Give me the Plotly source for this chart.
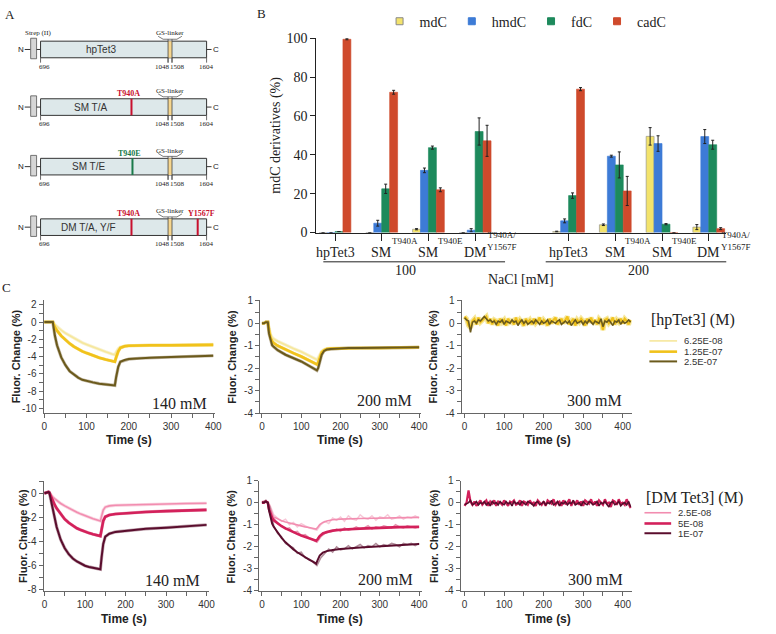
import plotly.graph_objects as go

W, H = 776, 634
def fx(p): return p / W
def fy(p): return 1 - p / H

SERIF = "Liberation Serif"
SANS = "Liberation Sans"

# ---------------- Panel A data ----------------
constructs = ["hpTet3", "SM T/A", "SM T/E", "DM T/A, Y/F"]
mutations = [[], ["T940A"], ["T940E"], ["T940A", "Y1567F"]]
mutation_colors = {"T940A": "#c8102e", "T940E": "#1a7a4a", "Y1567F": "#c8102e"}
boundary_labels = ["696", "1048", "1508", "1604"]

# ---------------- Panel B data ----------------
group_names = ["hpTet3", "SM", "SM", "DM", "hpTet3", "SM", "SM", "DM"]
group_sups = ["", "T940A", "T940E", "T940A/<br>Y1567F", "", "T940A", "T940E", "T940A/<br>Y1567F"]
group_pos = [0, 1, 2, 3, 5, 6, 7, 8]
nacl_labels = ["100", "200"]
series_names = ["mdC", "hmdC", "fdC", "cadC"]
mdC = [0, 0, 1.7, 0, 0.5, 4.0, 49.5, 2.8]
mdC_err = [0, 0, 0.3, 0, 0.2, 0.4, 4.5, 1.3]
hmdC = [0, 4.8, 32.0, 1.2, 6.0, 39.3, 45.8, 49.4]
hmdC_err = [0, 1.5, 1.2, 0.8, 1.0, 0.5, 4.0, 3.6]
fdC = [0.5, 22.5, 43.7, 52.0, 19.0, 34.8, 4.3, 45.2]
fdC_err = [0, 2.4, 0.8, 7.0, 1.4, 6.7, 0.3, 2.3]
cadC = [99.5, 72.2, 22.0, 47.2, 73.8, 21.4, 0, 2.0]
cadC_err = [0.3, 1.0, 1.0, 8.0, 0.8, 7.5, 0, 0.5]
bar_colors = ["#f3e36c", "#3d7bd6", "#1d8a5c", "#cf4a2c"]

# ---------------- Panel C data ----------------
hp_conc = ["6.25E-08", "1.25E-07", "2.5E-07"]
dm_conc = ["2.5E-08", "5E-08", "1E-07"]

# top row, 140 mM
t_hp140 = [0, 10, 20, 25, 30, 40, 50, 60, 70, 80, 90, 100, 115, 130, 145, 160, 167, 170, 175, 180, 190, 200, 225, 250, 300, 350, 400]
hp140_a = [0.05, 0.05, 0, -0.3, -0.55, -0.95, -1.3, -1.6, -1.9, -2.15, -2.4, -2.6, -2.9, -3.2, -3.45, -3.7, -3.8, -3.5, -3.1, -2.9, -2.8, -2.75, -2.7, -2.7, -2.65, -2.65, -2.6]
hp140_b = [0, 0, 0, -0.6, -1.0, -1.6, -2.1, -2.5, -2.85, -3.15, -3.4, -3.6, -3.9, -4.15, -4.35, -4.55, -4.6, -4.1, -3.4, -3.0, -2.8, -2.75, -2.7, -2.7, -2.7, -2.65, -2.65]
hp140_c = [0, 0, 0, -1.6, -2.7, -4.1, -5.0, -5.7, -6.1, -6.45, -6.7, -6.85, -7.0, -7.15, -7.25, -7.3, -7.35, -6.4, -5.2, -4.6, -4.4, -4.3, -4.2, -4.15, -4.05, -3.95, -3.9]

# top row, 200 mM
t_hp200 = [0, 5, 10, 15, 18, 22, 26, 30, 40, 60, 80, 100, 120, 140, 143, 147, 152, 158, 165, 175, 190, 220, 250, 300, 350, 400]
hp200_a = [0, 0, 0.05, 0.05, -0.2, -0.5, -0.63, -0.7, -0.8, -0.97, -1.12, -1.27, -1.45, -1.62, -1.55, -1.4, -1.25, -1.17, -1.13, -1.12, -1.12, -1.1, -1.1, -1.1, -1.08, -1.07]
hp200_b = [0, 0, 0.05, 0.05, -0.3, -0.65, -0.8, -0.88, -1.0, -1.18, -1.33, -1.48, -1.65, -1.83, -1.75, -1.5, -1.3, -1.2, -1.15, -1.13, -1.12, -1.1, -1.1, -1.1, -1.08, -1.07]
hp200_c = [0, 0, 0.05, 0.05, -0.45, -0.8, -0.98, -1.05, -1.2, -1.4, -1.55, -1.7, -1.9, -2.1, -2.0, -1.7, -1.4, -1.23, -1.17, -1.15, -1.13, -1.1, -1.1, -1.1, -1.08, -1.07]

# top row, 300 mM (raw traces, 5 s sampling)
hp300_gold = [0.3, 0.2, -0.1, -0.2, 0.1, 0.2, -0.05, 0.25, 0.05, 0.15,
              0.2, 0.3, 0.0, 0.2, -0.05, 0.15, 0.1, -0.1, 0.2, 0.05,
              0.15, -0.1, 0.2, 0.05, 0.1, -0.05, 0.25, 0.0, 0.15, 0.05,
              -0.1, 0.2, 0.05, 0.15, -0.05, 0.2, 0.0, 0.1, 0.25, -0.05,
              0.15, 0.05, -0.1, 0.2, 0.0, 0.15, 0.25, -0.05, 0.1, 0.2,
              0.0, 0.15, 0.3, -0.05, 0.1, 0.2, -0.1, 0.15, 0.05, 0.2,
              0.1, -0.1, 0.2, 0.05, 0.25, 0.0, 0.15, -0.05, 0.2, 0.1,
              -0.3, 0.15, 0.2, 0.0, 0.1, 0.25, -0.05, 0.15, 0.05, 0.2,
              0.0, 0.2, 0.1, -0.05, 0.15]
hp300_dark = [0.25, 0.15, 0.1, -0.4, 0.05, 0.1, 0.0, 0.15, 0.1, 0.2,
              0.3, 0.2, 0.1, 0.15, 0.05, 0.1, -0.05, 0.1, 0.05, 0.15,
              -0.05, 0.1, 0.05, 0.0, 0.15, 0.05, 0.1, -0.1, 0.05, 0.15,
              0.0, 0.1, -0.05, 0.05, 0.1, 0.0, 0.15, 0.05, -0.05, 0.1,
              0.0, 0.05, 0.15, -0.05, 0.1, 0.05, 0.0, 0.1, 0.15, -0.05,
              0.05, 0.1, 0.0, 0.1, -0.1, 0.05, 0.15, 0.0, 0.05, 0.1,
              -0.05, 0.1, 0.0, 0.15, 0.05, -0.05, 0.1, 0.05, 0.0, 0.2,
              -0.15, 0.1, 0.05, 0.15, 0.0, -0.1, 0.1, 0.05, 0.15, -0.05,
              0.1, 0.0, 0.05, 0.15, 0.05]

# bottom row, 140 mM
t_dm140 = [0, 5, 10, 12, 15, 20, 25, 30, 40, 50, 60, 70, 80, 90, 100, 110, 120, 130, 138, 141, 145, 150, 160, 175, 200, 250, 300, 350, 400]
dm140_a = [0, 0.05, 0.1, 0.05, -0.1, -0.3, -0.45, -0.6, -0.85, -1.05, -1.25, -1.42, -1.58, -1.73, -1.87, -2.0, -2.12, -2.22, -2.3, -1.9, -1.4, -1.15, -1.05, -1.0, -0.97, -0.92, -0.88, -0.85, -0.83]
dm140_b = [0, 0.05, 0.1, 0.05, -0.2, -0.6, -0.95, -1.25, -1.75, -2.15, -2.45, -2.7, -2.9, -3.05, -3.2, -3.3, -3.4, -3.48, -3.55, -3.0, -2.3, -1.95, -1.8, -1.72, -1.65, -1.55, -1.48, -1.42, -1.38]
dm140_c = [0, 0.05, 0.1, 0.05, -0.4, -1.3, -2.1, -2.8, -3.85, -4.55, -5.05, -5.4, -5.65, -5.85, -6.0, -6.1, -6.18, -6.25, -6.3, -5.3, -4.2, -3.6, -3.35, -3.2, -3.1, -2.95, -2.85, -2.72, -2.62]

# bottom row, 200 mM (fits)
t_dm200 = [0, 5, 10, 15, 18, 22, 26, 30, 40, 50, 60, 70, 80, 90, 100, 110, 120, 130, 138, 142, 147, 155, 165, 180, 200, 250, 300, 350, 400]
dm200_a = [0, 0, 0.05, 0, -0.25, -0.45, -0.57, -0.65, -0.75, -0.82, -0.88, -0.93, -0.98, -1.02, -1.06, -1.1, -1.13, -1.17, -1.2, -1.12, -1.0, -0.9, -0.83, -0.78, -0.75, -0.72, -0.7, -0.68, -0.67]
dm200_b = [0, 0, 0.05, 0, -0.3, -0.55, -0.7, -0.8, -0.95, -1.07, -1.17, -1.26, -1.34, -1.42, -1.49, -1.56, -1.62, -1.68, -1.73, -1.65, -1.52, -1.4, -1.33, -1.27, -1.23, -1.18, -1.14, -1.11, -1.1]
dm200_c = [0, 0, 0.05, 0, -0.35, -0.7, -0.95, -1.1, -1.38, -1.6, -1.8, -1.97, -2.12, -2.25, -2.37, -2.48, -2.58, -2.68, -2.77, -2.6, -2.4, -2.27, -2.2, -2.15, -2.1, -2.03, -1.97, -1.92, -1.88]
# bottom row, 200 mM (raw, 10 s sampling)
dm200_raw_a = [0.05, 0.1, -0.1, -0.55, -0.7, -0.85, -0.75, -1.0, -0.9, -1.1, -0.95, -1.05, -1.15, -1.2, -1.25, -1.0, -0.85, -0.95, -0.7, -0.8, -0.65, -0.85, -0.6, -0.75, -0.8, -0.55, -0.7, -0.75, -0.6, -0.8, -0.65, -0.7, -0.55, -0.75, -0.7, -0.6, -0.75, -0.65, -0.7, -0.6, -0.7]
dm200_raw_b = [0, 0.05, -0.15, -0.7, -0.95, -1.05, -1.2, -1.15, -1.35, -1.3, -1.5, -1.45, -1.6, -1.7, -1.8, -1.55, -1.4, -1.35, -1.3, -1.2, -1.3, -1.15, -1.25, -1.2, -1.1, -1.2, -1.15, -1.05, -1.2, -1.1, -1.15, -1.05, -1.1, -1.15, -1.0, -1.1, -1.15, -1.05, -1.1, -1.15, -1.1]
dm200_raw_c = [0, 0.1, -0.2, -1.05, -1.4, -1.55, -1.85, -1.95, -2.05, -2.3, -2.25, -2.5, -2.55, -2.7, -2.85, -2.5, -2.3, -2.1, -2.25, -2.0, -2.15, -2.1, -1.95, -2.1, -2.0, -1.9, -2.05, -1.95, -2.0, -1.85, -2.0, -1.9, -1.95, -1.85, -1.9, -2.0, -1.85, -1.9, -1.85, -1.95, -1.85]

# bottom row, 300 mM (raw, 5 s sampling)
dm300_mid = [-0.15, 0.0, 0.55, 0.05, -0.1, 0.05, -0.15, 0.0, 0.1, -0.1,
             0.0, 0.1, -0.15, 0.05, -0.05, 0.1, -0.15, 0.05, 0.0, -0.1,
             0.1, -0.05, -0.15, 0.05, 0.0, 0.1, -0.1, -0.05, 0.1, -0.15,
             0.05, 0.0, -0.1, 0.1, -0.05, 0.0, -0.15, 0.1, 0.0, -0.1,
             0.05, -0.15, 0.1, 0.0, -0.05, 0.15, -0.1, 0.0, 0.05, -0.15,
             0.1, -0.05, 0.0, 0.15, -0.15, 0.05, -0.05, 0.1, -0.1, 0.05,
             -0.15, 0.1, 0.0, -0.05, 0.15, -0.1, 0.05, -0.15, 0.1, 0.0,
             -0.1, 0.15, -0.05, 0.0, -0.2, 0.1, 0.05, -0.1, 0.15, -0.05,
             0.0, -0.1, 0.15, -0.05, -0.25]
dm300_dark = [-0.1, -0.05, 0.0, 0.1, -0.1, -0.05, 0.05, -0.1, 0.0, -0.05,
              0.05, -0.1, 0.0, -0.15, 0.05, -0.05, 0.0, -0.1, 0.05, -0.05,
              -0.1, 0.05, -0.05, 0.0, -0.15, 0.05, -0.05, 0.0, -0.1, 0.05,
              -0.05, -0.1, 0.05, 0.0, -0.05, -0.15, 0.0, 0.05, -0.1, -0.05,
              0.05, -0.1, 0.0, -0.05, 0.1, -0.1, -0.05, 0.05, -0.15, 0.0,
              -0.05, 0.05, -0.1, 0.0, -0.05, 0.1, -0.1, -0.05, 0.0, -0.15,
              0.05, -0.05, -0.1, 0.05, 0.0, -0.1, -0.05, 0.05, -0.15, 0.0,
              -0.05, 0.05, -0.1, -0.2, 0.0, 0.05, -0.1, -0.05, 0.05, -0.15,
              -0.05, 0.0, -0.1, 0.05, -0.2]

hp_colors = ["#f6e79c", "#f1c21b", "#6b5a1c"]
hp_raw_colors = ["#f7efc4", "#f4d96a", "#b3a68c"]
dm_colors = ["#f28db0", "#d3215b", "#5a0d2d"]
dm_raw_colors = ["#f7c3d4", "#e58aa8", "#a77f8e"]

fig = go.Figure()

# ---------------- Panel B bars ----------------
series_vals = [mdC, hmdC, fdC, cadC]
series_errs = [mdC_err, hmdC_err, fdC_err, cadC_err]
for name, vals, errs, col in zip(series_names, series_vals, series_errs, bar_colors):
    fig.add_trace(go.Bar(
        x=group_pos, y=vals, name=name, marker=dict(color=col, line=dict(color="#8a8a8a" if name == "mdC" else col, width=0.6)),
        error_y=dict(type="data", array=errs, visible=True, color="#222", thickness=1, width=1.5),
        showlegend=False, hoverinfo="skip", xaxis="x", yaxis="y"))
for name, col in zip(series_names, bar_colors):
    fig.add_trace(go.Scatter(
        x=[None], y=[None], mode="markers", name=name,
        marker=dict(symbol="square", size=7, color=col, line=dict(color="#888" if name == "mdC" else col, width=1)),
        xaxis="x", yaxis="y", showlegend=True))

# ---------------- Panel C curves ----------------
def add_line(n, t, y, color, width, opacity=1.0):
    fig.add_trace(go.Scatter(x=t, y=y, mode="lines", line=dict(color=color, width=width),
                             opacity=opacity, xaxis=f"x{n}", yaxis=f"y{n}", showlegend=False, hoverinfo="skip"))

widths = [1.6, 2.6, 2.0]
# P1 top 140
for y, rc in zip([hp140_a, hp140_b, hp140_c], hp_raw_colors):
    add_line(2, t_hp140, y, rc, 3.2, 0.8)
for y, c, w in zip([hp140_a, hp140_b, hp140_c], hp_colors, widths):
    add_line(2, t_hp140, y, c, w)
# P2 top 200
for y, rc in zip([hp200_a, hp200_b, hp200_c], hp_raw_colors):
    add_line(3, t_hp200, y, rc, 3.2, 0.8)
for y, c, w in zip([hp200_a, hp200_b, hp200_c], hp_colors, widths):
    add_line(3, t_hp200, y, c, w)
# P3 top 300
t300 = [5 * i for i in range(len(hp300_gold))]
add_line(4, t300, hp300_gold, hp_colors[0], 5)
add_line(4, t300, hp300_gold, hp_colors[1], 2.2)
add_line(4, t300, hp300_dark, hp_colors[2], 1.6)
# P4 bottom 140
for y, rc in zip([dm140_a, dm140_b, dm140_c], dm_raw_colors):
    add_line(5, t_dm140, y, rc, 3.2, 0.7)
for y, c, w in zip([dm140_a, dm140_b, dm140_c], dm_colors, widths):
    add_line(5, t_dm140, y, c, w)
# P5 bottom 200
t_raw = [10 * i for i in range(len(dm200_raw_a))]
for y, rc in zip([dm200_raw_a, dm200_raw_b, dm200_raw_c], dm_raw_colors):
    add_line(6, t_raw, y, rc, 1.5, 0.9)
for y, c, w in zip([dm200_a, dm200_b, dm200_c], dm_colors, widths):
    add_line(6, t_dm200, y, c, w)
# P6 bottom 300
t300b = [5 * i for i in range(len(dm300_mid))]
add_line(7, t300b, dm300_mid, dm_colors[1], 2.2)
add_line(7, t300b, dm300_dark, dm_colors[2], 1.6)

# ---------------- Layout ----------------
layout = dict(
    width=W, height=H, margin=dict(l=0, r=0, t=0, b=0),
    paper_bgcolor="white", plot_bgcolor="rgba(0,0,0,0)",
    barmode="group", bargap=0.32, bargroupgap=0,
    font=dict(family=SERIF, color="#222"),
    legend=dict(orientation="h", x=fx(382), y=fy(15), xanchor="left", yanchor="middle",
                font=dict(family=SERIF, size=14, color="#222"), bgcolor="rgba(0,0,0,0)"),
)

layout["xaxis"] = dict(domain=[fx(318), fx(733)], range=[-0.4, 8.38], anchor="y",
                       tickmode="array", tickvals=group_pos, ticktext=[""] * len(group_pos),
                       ticks="outside", ticklen=7, tickcolor="#222", showline=True, linecolor="#222",
                       showgrid=False, zeroline=False)
layout["yaxis"] = dict(domain=[fy(231), fy(32)], range=[0, 100], anchor="x", dtick=20,
                       ticks="outside", ticklen=5, tickcolor="#222", showline=True, linecolor="#222",
                       showgrid=False, zeroline=False, tickfont=dict(family=SERIF, size=14, color="#222"))

def caxis(n, xd, yd, xr, yr, yvals, ydt_minor):
    common = dict(showline=True, linecolor="#666", linewidth=1, ticks="outside", ticklen=4,
                  tickwidth=1, tickcolor="#666", showgrid=False, zeroline=False,
                  tickfont=dict(family=SANS, size=10, color="#333"))
    xvals = [0, 100, 200, 300, 400]
    layout[f"xaxis{n}"] = dict(domain=[fx(xd[0]), fx(xd[1])], range=xr, anchor=f"y{n}",
                               tickmode="array", tickvals=xvals, ticktext=[str(v) for v in xvals],
                               minor=dict(tickmode="linear", tick0=0, dtick=50, ticks="outside", ticklen=4, tickcolor="#666", showgrid=False),
                               **common)
    layout[f"yaxis{n}"] = dict(domain=[fy(yd[1]), fy(yd[0])], range=yr, anchor=f"x{n}",
                               tickmode="array", tickvals=yvals, ticktext=[str(v) for v in yvals],
                               minor=dict(tickmode="linear", tick0=0, dtick=ydt_minor, ticks="outside", ticklen=4, tickcolor="#666", showgrid=False),
                               **common)

caxis(2, (42, 215), (300, 416), [-2, 403], [-10.57, 2.57], [2, 0, -2, -4, -6, -8, -10], 1)
caxis(3, (261, 424), (300, 416), [-5, 405], [-4, 1.04], [1, 0, -1, -2, -3, -4], 0.5)
caxis(4, (465, 637), (300, 416), [-7.5, 422.5], [-4, 1.04], [1, 0, -1, -2, -3, -4], 0.5)
caxis(5, (42, 209), (485, 598), [-2.4, 405], [-8.08, 1.05], [0, -2, -4, -6, -8], 1)
caxis(6, (260, 425), (485, 598), [-7.5, 407.5], [-4, 1.0], [1, 0, -1, -2, -3, -4], 0.5)
caxis(7, (464, 637), (485, 598), [-10, 422.5], [-4, 1.0], [1, 0, -1, -2, -3, -4], 0.5)

# Panel A canvas axis (1 unit = 1 px)
layout["xaxis8"] = dict(domain=[0, fx(230)], range=[0, 230], visible=False, anchor="y8")
layout["yaxis8"] = dict(domain=[fy(270), 1], range=[270, 0], visible=False, anchor="x8")

shapes = []
annotations = []

def ann(x, y, text, size, family=SANS, color="#222", xanchor="center", yanchor="middle", bold=False,
        xref="paper", yref="paper", angle=0):
    if bold:
        text = f"<b>{text}</b>"
    annotations.append(dict(x=x, y=y, text=text, showarrow=False, xref=xref, yref=yref,
                            xanchor=xanchor, yanchor=yanchor, textangle=angle,
                            font=dict(family=family, size=size, color=color)))

# panel letters
ann(fx(8), fy(8), "A", 13, SERIF)
ann(fx(263), fy(7), "B", 13, SERIF)
ann(fx(5), fy(287), "C", 13, SERIF)

# ---------------- Panel A drawing ----------------
row_tops = [35, 94, 155, 217]
box_h = 17
pos_px = {"696": 39, "1048": 168, "1508": 172, "1604": 207, "T940A": 131, "T940E": 132, "Y1567F": 198}
name_x = [100, 90, 88, 88]
def A_shape(**kw):
    kw.setdefault("xref", "x8"); kw.setdefault("yref", "y8")
    shapes.append(kw)
def A_text(x, y, text, size, family=SANS, color="#222", bold=False, xanchor="center"):
    ann(x, y, text, size, family, color, xanchor=xanchor, bold=bold, xref="x8", yref="y8")

for i, (name, muts) in enumerate(zip(constructs, mutations)):
    top = row_tops[i]; bot = top + box_h; mid = (top + bot) / 2
    x0, x1 = pos_px["696"], pos_px["1604"]
    A_shape(type="line", x0=23, x1=29, y0=mid, y1=mid, line=dict(color="#333", width=1))
    A_shape(type="rect", x0=29, x1=35, y0=top - 3, y1=bot + 1, fillcolor="#d6d6d6", line=dict(color="#555", width=0.8))
    A_shape(type="line", x0=35, x1=x0, y0=mid, y1=mid, line=dict(color="#333", width=1))
    A_shape(type="rect", x0=x0, x1=x1, y0=top, y1=bot, fillcolor="#dde8ea", line=dict(color="#333", width=1))
    A_shape(type="line", x0=x1, x1=x1 + 5, y0=mid, y1=mid, line=dict(color="#333", width=1))
    A_text(19, mid, "N", 8)
    A_text(217, mid, "C", 8)
    # GS linker
    g0, g1 = pos_px["1048"], pos_px["1508"]
    A_shape(type="rect", x0=g0, x1=g1, y0=top, y1=bot, fillcolor="#f6d68e", line=dict(width=0))
    for gx in (g0, g1):
        A_shape(type="line", x0=gx, x1=gx, y0=top - 2, y1=bot + 5, line=dict(color="#444", width=0.8))
    A_shape(type="path", path=f"M 158 {top-5} L 163 {top-2} L 177 {top-2} L 182 {top-5}", line=dict(color="#444", width=0.7))
    A_text(170, top - 8, "GS-linker", 7, SERIF)
    # boundary ticks & labels
    for lab, dx in zip(boundary_labels, [4, -6, 6, 0]):
        px_ = pos_px[lab]
        A_shape(type="line", x0=px_, x1=px_, y0=bot, y1=bot + 5, line=dict(color="#444", width=0.8))
        A_text(px_ + dx, bot + 9, lab, 7, SERIF)
    if i == 0:
        A_text(37, top - 8, "Strep (II)", 7, SERIF)
    # mutations
    for m in muts:
        mx = pos_px[m]
        A_shape(type="line", x0=mx, x1=mx, y0=top, y1=bot, line=dict(color=mutation_colors[m], width=2))
        A_text(mx + (4 if m == "Y1567F" else -3), top - 5, m, 8, SERIF, mutation_colors[m], bold=True)
    A_text(name_x[i], mid, name, 10, SANS, "#333")

# ---------------- Panel B annotations ----------------
ann(fx(277), fy(131), "mdC derivatives (%)", 14, SERIF, angle=-90)
for name, sup, pos in zip(group_names, group_sups, group_pos):
    ann(pos, fy(251), name, 14, SERIF, xref="x")
    if sup:
        off = 10 if name == "DM" else 8
        ann(pos + off / 47.25, fy(240), sup, 9, SERIF, xanchor="left", xref="x")
for (a, b), lab, cx in zip([(-0.25, 3.64), (4.51, 8.38)], nacl_labels, [1.5, 6.5]):
    shapes.append(dict(type="line", xref="x", yref="paper", x0=a, x1=b, y0=fy(261), y1=fy(261), line=dict(color="#222", width=1)))
    ann(cx, fy(270), lab, 14, SERIF, xref="x")
ann(fx(525), fy(279), "NaCl [mM]", 14, SERIF)

# ---------------- Panel C annotations ----------------
for xc, yc in [(14, 358), (232, 358), (436, 358), (21, 542), (232, 542), (437, 542)]:
    ann(fx(xc), fy(yc), "Fluor. Change (%)", 11, SANS, "#222", bold=True, angle=-90)
for xc, yc in [(128, 444), (342, 444), (552, 444), (123, 627), (342, 627), (552, 627)]:
    ann(fx(xc), fy(yc), "Time (s)", 12, SANS, "#222", bold=True)
for xc, yc, txt in [(180, 406, "140 mM"), (387, 403, "200 mM"), (599, 403, "300 mM"),
                    (173, 587, "140 mM"), (388, 586, "200 mM"), (600, 586, "300 mM")]:
    ann(fx(xc), fy(yc), txt, 16, SERIF)

# manual legends for panel C
def c_legend(title, x_line0, x_line1, y_title, ys, labels, colors, lw):
    ann(fx(x_line0), fy(y_title), title, 16, SERIF, xanchor="left")
    for y, lab, col, w in zip(ys, labels, colors, lw):
        shapes.append(dict(type="line", xref="paper", yref="paper", x0=fx(x_line0), x1=fx(x_line1),
                           y0=fy(y), y1=fy(y), line=dict(color=col, width=w)))
        ann(fx(x_line1 + 5), fy(y), lab, 9.5, SANS, "#333", xanchor="left")

c_legend("[hpTet3] (M)", 655, 683, 321, [342, 353, 363], hp_conc, hp_colors, [1.6, 2.6, 2.0])
c_legend("[DM Tet3] (M)", 650, 677, 503, [518, 529, 539], dm_conc, dm_colors, [1.6, 2.6, 2.0])

layout["shapes"] = shapes
layout["annotations"] = annotations
fig.update_layout(**layout)
fig.write_html("out.html")
